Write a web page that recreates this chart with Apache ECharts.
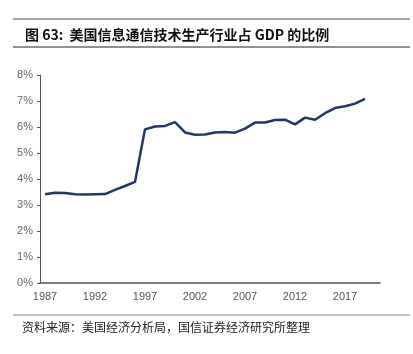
<!DOCTYPE html>
<html lang="zh">
<head>
    <meta charset="UTF-8">
    <title>ICT GDP share</title>
    <script src="https://cdn.jsdelivr.net/npm/echarts@6/dist/echarts.min.js"></script>
</head>
<body style="margin:0;background:#fff;">
<div id="main" style="width: 413px;height:354px;"></div>
<script type="text/javascript">
    // 年份 (横轴多留一格，和原图一样)
    var years = [];
    for (var y = 1987; y <= 2020; y++) years.push(String(y));
    // 占比 %
    var share = [3.41, 3.47, 3.46, 3.41, 3.40, 3.41, 3.42, 3.58, 3.73, 3.89,
        5.91, 6.02, 6.04, 6.19, 5.79, 5.70, 5.71, 5.79, 5.81, 5.78,
        5.94, 6.17, 6.17, 6.27, 6.28, 6.10, 6.36, 6.28, 6.53, 6.73,
        6.80, 6.90, 7.08];

    var font = '"Liberation Sans", Helvetica, Arial, sans-serif';
    var cjk = '"Noto Sans CJK SC", sans-serif';

    var myChart = echarts.init(document.getElementById('main'));
    myChart.setOption({
        animation: false,
        title: {
            text: '图 63:  美国信息通信技术生产行业占 GDP 的比例',
            left: 20,
            top: 23,
            textStyle: {fontFamily: cjk, fontSize: 14, fontWeight: 'bold', color: '#111'}
        },
        graphic: [
            {type: 'line', shape: {x1: 13, y1: 19, x2: 410, y2: 19}, style: {stroke: '#888', lineWidth: 1.5}},
            {type: 'line', shape: {x1: 13, y1: 47, x2: 410, y2: 47}, style: {stroke: '#222', lineWidth: 1.2}},
            {type: 'line', shape: {x1: 13, y1: 315, x2: 410, y2: 315}, style: {stroke: '#888', lineWidth: 1}},
            {type: 'text', left: 22, top: 321,
                style: {text: '资料来源：美国经济分析局，国信证券经济研究所整理', font: '12px ' + cjk, fill: '#222'}}
        ],
        grid: {left: 40, right: 33, top: 75, bottom: 71},
        xAxis: {
            type: 'category',
            data: years,
            boundaryGap: true,
            axisLine: {lineStyle: {color: '#555', width: 1.5}},
            axisTick: {interval: 4, length: 3, lineStyle: {color: '#555'}},
            axisLabel: {interval: 4, color: '#555', fontSize: 11, fontFamily: font, margin: 8}
        },
        yAxis: {
            type: 'value',
            min: 0,
            max: 8,
            interval: 1,
            splitLine: {show: false},
            axisLine: {show: true, lineStyle: {color: '#555', width: 1}},
            axisTick: {show: true, inside: false, length: 3, lineStyle: {color: '#555'}},
            axisLabel: {formatter: '{value}%', color: '#666', fontSize: 11, fontFamily: font, margin: 7}
        },
        series: [{
            type: 'line',
            data: share,
            symbol: 'none',
            lineStyle: {color: '#203864', width: 2.5}
        }]
    });
</script>
</body>
</html>
